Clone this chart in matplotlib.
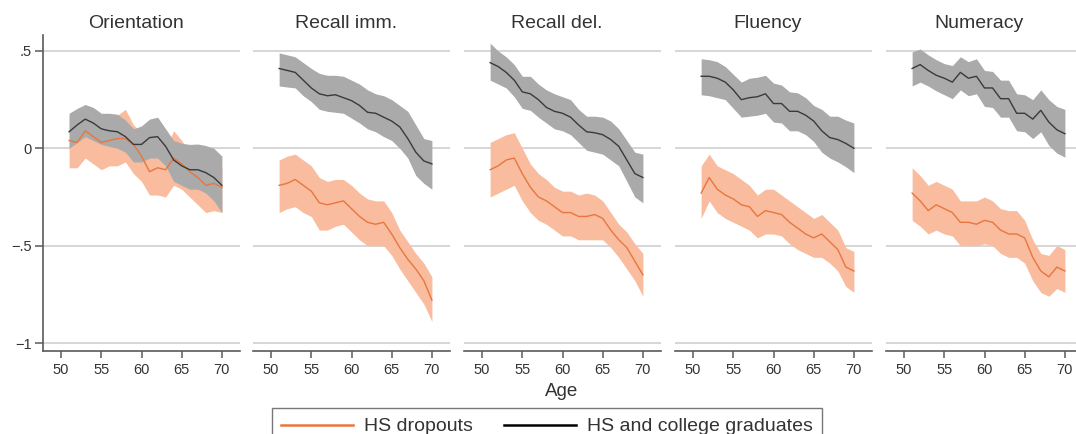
import matplotlib.pyplot as plt
from matplotlib.lines import Line2D

plt.rcParams['font.family'] = ['Liberation Sans', 'DejaVu Sans']

# --- Data ---
ages = [51, 52, 53, 54, 55, 56, 57, 58, 59, 60,
        61, 62, 63, 64, 65, 66, 67, 68, 69, 70]
titles = ["Orientation", "Recall imm.", "Recall del.", "Fluency", "Numeracy"]
y_ticks = [0.5, 0, -0.5, -1]
y_tick_labels = [".5", "0", "\u2212.5", "\u22121"]
x_ticks = [50, 55, 60, 65, 70]
legend_labels = ["HS dropouts", "HS and college graduates"]

# HS dropouts: mean, lower and upper band
drop_orient = [0.04, 0.03, 0.09, 0.06, 0.03, 0.04, 0.05, 0.05, 0.02, -0.04,
               -0.12, -0.10, -0.11, -0.05, -0.08, -0.12, -0.15, -0.19, -0.18, -0.20]
drop_orient_lo = [-0.10, -0.10, -0.05, -0.08, -0.11, -0.09, -0.09, -0.07, -0.13, -0.17,
                  -0.24, -0.24, -0.25, -0.19, -0.21, -0.25, -0.29, -0.33, -0.32, -0.33]
drop_orient_hi = [0.17, 0.18, 0.20, 0.18, 0.16, 0.17, 0.17, 0.20, 0.12, 0.08,
                  0.00, -0.01, 0.00, 0.09, 0.04, -0.02, -0.04, -0.08, -0.08, -0.10]

drop_rimm = [-0.19, -0.18, -0.16, -0.19, -0.22, -0.28, -0.29, -0.28, -0.27, -0.31,
             -0.35, -0.38, -0.39, -0.38, -0.44, -0.51, -0.57, -0.62, -0.68, -0.78]
drop_rimm_lo = [-0.33, -0.31, -0.30, -0.33, -0.35, -0.42, -0.42, -0.40, -0.39, -0.43,
                -0.47, -0.50, -0.50, -0.50, -0.55, -0.62, -0.68, -0.74, -0.80, -0.89]
drop_rimm_hi = [-0.06, -0.04, -0.03, -0.06, -0.09, -0.15, -0.17, -0.16, -0.16, -0.19,
                -0.23, -0.26, -0.27, -0.27, -0.33, -0.42, -0.48, -0.54, -0.59, -0.66]

drop_rdel = [-0.11, -0.09, -0.06, -0.05, -0.13, -0.20, -0.25, -0.27, -0.30, -0.33,
             -0.33, -0.35, -0.35, -0.34, -0.36, -0.42, -0.47, -0.51, -0.58, -0.65]
drop_rdel_lo = [-0.25, -0.23, -0.21, -0.19, -0.27, -0.33, -0.37, -0.39, -0.42, -0.45,
                -0.45, -0.47, -0.47, -0.47, -0.47, -0.51, -0.56, -0.62, -0.68, -0.76]
drop_rdel_hi = [0.03, 0.05, 0.07, 0.08, 0.00, -0.08, -0.13, -0.16, -0.20, -0.22,
                -0.22, -0.24, -0.23, -0.24, -0.27, -0.33, -0.39, -0.43, -0.49, -0.54]

drop_flu = [-0.23, -0.15, -0.21, -0.24, -0.26, -0.29, -0.30, -0.35, -0.32, -0.33,
            -0.34, -0.38, -0.41, -0.44, -0.46, -0.44, -0.48, -0.52, -0.61, -0.63]
drop_flu_lo = [-0.36, -0.27, -0.33, -0.36, -0.38, -0.40, -0.42, -0.46, -0.44, -0.44,
               -0.45, -0.49, -0.52, -0.54, -0.56, -0.56, -0.59, -0.63, -0.71, -0.74]
drop_flu_hi = [-0.09, -0.03, -0.09, -0.11, -0.13, -0.16, -0.19, -0.24, -0.21, -0.21,
               -0.24, -0.27, -0.30, -0.33, -0.36, -0.34, -0.38, -0.42, -0.51, -0.53]

drop_num = [-0.23, -0.27, -0.32, -0.29, -0.31, -0.33, -0.38, -0.38, -0.39, -0.37,
            -0.38, -0.42, -0.44, -0.44, -0.46, -0.56, -0.63, -0.66, -0.61, -0.63]
drop_num_lo = [-0.37, -0.40, -0.44, -0.42, -0.44, -0.45, -0.50, -0.50, -0.50, -0.49,
               -0.50, -0.54, -0.56, -0.56, -0.59, -0.68, -0.74, -0.76, -0.72, -0.74]
drop_num_hi = [-0.10, -0.14, -0.19, -0.17, -0.19, -0.21, -0.27, -0.27, -0.27, -0.25,
               -0.27, -0.31, -0.32, -0.32, -0.37, -0.47, -0.54, -0.55, -0.50, -0.52]

# HS and college graduates: mean, lower and upper band
grad_orient = [0.085, 0.12, 0.15, 0.13, 0.10, 0.09, 0.085, 0.06, 0.02, 0.02,
               0.055, 0.06, 0.01, -0.06, -0.09, -0.11, -0.11, -0.125, -0.15, -0.19]
grad_orient_lo = [0.00, 0.03, 0.06, 0.04, 0.02, 0.01, 0.00, -0.02, -0.07, -0.07,
                  -0.05, -0.05, -0.09, -0.17, -0.19, -0.21, -0.21, -0.23, -0.27, -0.33]
grad_orient_hi = [0.18, 0.205, 0.225, 0.21, 0.18, 0.18, 0.175, 0.145, 0.10, 0.115,
                  0.15, 0.16, 0.10, 0.04, 0.026, 0.02, 0.022, 0.014, 0.00, -0.04]

grad_rimm = [0.41, 0.40, 0.39, 0.35, 0.31, 0.28, 0.27, 0.275, 0.26, 0.245,
             0.22, 0.185, 0.18, 0.16, 0.14, 0.11, 0.05, -0.02, -0.065, -0.08]
grad_rimm_lo = [0.32, 0.315, 0.31, 0.27, 0.24, 0.20, 0.19, 0.185, 0.18, 0.155,
                0.13, 0.10, 0.085, 0.06, 0.04, 0.00, -0.05, -0.14, -0.18, -0.21]
grad_rimm_hi = [0.49, 0.48, 0.47, 0.44, 0.41, 0.385, 0.375, 0.375, 0.37, 0.35,
                0.33, 0.30, 0.28, 0.27, 0.25, 0.22, 0.19, 0.12, 0.05, 0.04]

grad_rdel = [0.44, 0.42, 0.39, 0.35, 0.29, 0.28, 0.25, 0.21, 0.19, 0.18,
             0.16, 0.12, 0.085, 0.08, 0.07, 0.045, 0.01, -0.06, -0.13, -0.15]
grad_rdel_lo = [0.35, 0.33, 0.31, 0.265, 0.205, 0.195, 0.16, 0.13, 0.10, 0.09,
                0.07, 0.03, -0.01, -0.02, -0.03, -0.06, -0.09, -0.17, -0.25, -0.28]
grad_rdel_hi = [0.54, 0.50, 0.47, 0.43, 0.37, 0.37, 0.33, 0.30, 0.28, 0.265,
                0.25, 0.20, 0.165, 0.165, 0.16, 0.14, 0.10, 0.04, -0.02, -0.03]

grad_flu = [0.37, 0.37, 0.36, 0.34, 0.30, 0.25, 0.26, 0.265, 0.28, 0.23,
            0.23, 0.19, 0.19, 0.17, 0.14, 0.09, 0.055, 0.045, 0.025, 0.00]
grad_flu_lo = [0.275, 0.27, 0.26, 0.25, 0.205, 0.16, 0.165, 0.17, 0.18, 0.135,
               0.13, 0.09, 0.09, 0.07, 0.035, -0.02, -0.05, -0.07, -0.095, -0.125]
grad_flu_hi = [0.46, 0.455, 0.445, 0.42, 0.38, 0.34, 0.36, 0.365, 0.375, 0.335,
               0.325, 0.29, 0.285, 0.26, 0.22, 0.20, 0.165, 0.165, 0.145, 0.13]

grad_num = [0.41, 0.43, 0.40, 0.375, 0.36, 0.34, 0.39, 0.36, 0.37, 0.31,
            0.31, 0.255, 0.255, 0.18, 0.18, 0.15, 0.195, 0.135, 0.095, 0.075]
grad_num_lo = [0.32, 0.34, 0.32, 0.295, 0.275, 0.255, 0.30, 0.27, 0.28, 0.215,
               0.21, 0.16, 0.16, 0.09, 0.085, 0.05, 0.085, 0.015, -0.025, -0.045]
grad_num_hi = [0.495, 0.51, 0.48, 0.455, 0.435, 0.425, 0.47, 0.445, 0.46, 0.40,
               0.395, 0.35, 0.35, 0.28, 0.275, 0.25, 0.30, 0.25, 0.215, 0.20]

drop_series = [(drop_orient, drop_orient_lo, drop_orient_hi),
               (drop_rimm, drop_rimm_lo, drop_rimm_hi),
               (drop_rdel, drop_rdel_lo, drop_rdel_hi),
               (drop_flu, drop_flu_lo, drop_flu_hi),
               (drop_num, drop_num_lo, drop_num_hi)]
grad_series = [(grad_orient, grad_orient_lo, grad_orient_hi),
               (grad_rimm, grad_rimm_lo, grad_rimm_hi),
               (grad_rdel, grad_rdel_lo, grad_rdel_hi),
               (grad_flu, grad_flu_lo, grad_flu_hi),
               (grad_num, grad_num_lo, grad_num_hi)]

# --- Style ---
orange_line = '#E8763E'
orange_band = '#F9BC9E'
gray_line = '#3a3a3a'
gray_band = '#AAAAAA'
grid_col = '#D3D3D3'
axis_col = '#5a5a5a'
text_col = '#333333'

W, H = 1076, 434
fig = plt.figure(figsize=(W / 100, H / 100), dpi=100)

lefts_px = [43, 253, 464, 675, 886]
panel_w = 197
top_px, bottom_px = 35, 351

for i, title in enumerate(titles):
    ax = fig.add_axes([lefts_px[i] / W, (H - bottom_px) / H,
                       panel_w / W, (bottom_px - top_px) / H])
    m, lo, hi = drop_series[i]
    ax.fill_between(ages, lo, hi, color=orange_band, lw=0, zorder=2)
    gm, glo, ghi = grad_series[i]
    ax.fill_between(ages, glo, ghi, color=gray_band, lw=0, zorder=3)
    ax.plot(ages, m, color=orange_line, lw=1.0, zorder=4)
    ax.plot(ages, gm, color=gray_line, lw=1.0, zorder=5)

    ax.set_xlim(47.75, 72.25)
    ax.set_ylim(-1.041, 0.582)
    ax.set_xticks(x_ticks)
    ax.set_xticklabels([str(t) for t in x_ticks])
    ax.set_yticks(y_ticks)
    for yv in y_ticks:
        ax.axhline(yv, color=grid_col, lw=1.3, zorder=1)

    for s in ['top', 'right']:
        ax.spines[s].set_visible(False)
    ax.spines['bottom'].set_color(axis_col)
    ax.spines['bottom'].set_linewidth(1.2)
    ax.tick_params(axis='x', direction='out', length=5, width=1.1,
                   color=axis_col, labelsize=10.5, labelcolor=text_col, pad=4)

    if i == 0:
        ax.spines['left'].set_color(axis_col)
        ax.spines['left'].set_linewidth(1.2)
        ax.set_yticklabels(y_tick_labels)
        ax.tick_params(axis='y', direction='out', length=6, width=1.1,
                       color=axis_col, labelsize=10.5, labelcolor=text_col, pad=2)
    else:
        ax.spines['left'].set_visible(False)
        ax.tick_params(axis='y', left=False, labelleft=False)

    ax.text(0.47, 1.035, title, transform=ax.transAxes, ha='center', va='center',
            fontsize=14, color=text_col)

fig.text(562 / W, 1 - 392 / H, "Age", ha='center', va='center',
         fontsize=13.5, color=text_col)

handles = [Line2D([0], [0], color=orange_line, lw=1.8),
           Line2D([0], [0], color='black', lw=1.8)]
leg = fig.legend(handles, legend_labels, ncol=2, loc='upper center',
                 bbox_to_anchor=(547 / W, 1 - 408 / H), fontsize=14,
                 frameon=True, fancybox=False, edgecolor='#555555',
                 handlelength=3.7, handletextpad=0.55, columnspacing=1.6,
                 borderpad=0.5, borderaxespad=0)
leg.get_frame().set_linewidth(1.0)
for t in leg.get_texts():
    t.set_color(text_col)

fig.savefig("out.png", dpi=100)
